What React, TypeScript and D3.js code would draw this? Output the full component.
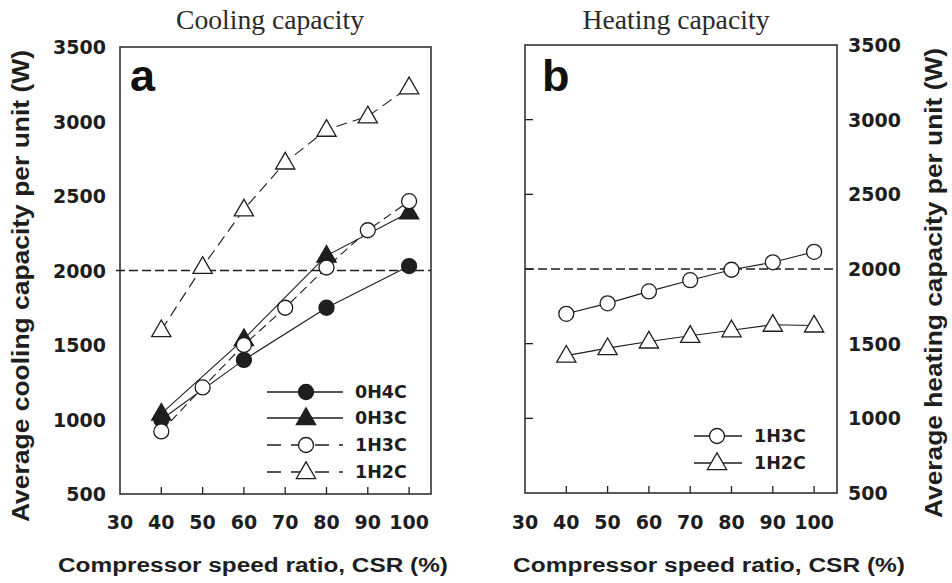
import React from "react";
import * as d3 from "d3";

const csrFull = [40, 50, 60, 70, 80, 90, 100];
const csrHalf = [40, 60, 80, 100];

const cool0H4C = [1000, 1400, 1750, 2030];
const cool0H3C = [1040, 1540, 2100, 2390];
const cool1H3C = [920, 1215, 1500, 1750, 2020, 2270, 2465];
const cool1H2C = [1600, 2025, 2410, 2725, 2945, 3035, 3230];

const heat1H3C = [1700, 1770, 1850, 1925, 1995, 2045, 2115];
const heat1H2C = [1420, 1470, 1515, 1553, 1590, 1627, 1622];

const xTicks = [30, 40, 50, 60, 70, 80, 90, 100];
const yTicks = [500, 1000, 1500, 2000, 2500, 3000, 3500];
const refLine = 2000;

const TICKFONT = "'DejaVu Sans', sans-serif";
const LABFONT = "'Liberation Sans', Arial, sans-serif";
const SERIF = "'Liberation Serif', 'Times New Roman', serif";
const INK = "#1e1e1e";

type Marker = "circleFill" | "triFill" | "circleOpen" | "triOpen";

function MarkerShape({ x, y, m }: { x: number; y: number; m: Marker }) {
  const filled = m === "circleFill" || m === "triFill";
  const fill = filled ? INK : "#fff";
  if (m === "circleFill" || m === "circleOpen") {
    return <circle cx={x} cy={y} r={7.5} fill={fill} stroke={INK} strokeWidth={1.3} />;
  }
  const sym = d3.symbol(d3.symbolTriangle, 160)();
  return <path d={sym as string} transform={`translate(${x},${y + 1})`} fill={fill} stroke={INK} strokeWidth={1.3} />;
}

function Panel({
  left, right, top, bottom, series, panel,
}: {
  left: number; right: number; top: number; bottom: number; panel: "a" | "b";
  series: { name: string; xs: number[]; ys: number[]; marker: Marker; dash?: string }[];
}) {
  const x = d3.scaleLinear().domain([30, 30 + (right - left) / 4.13]).range([left, right]);
  const y = d3.scaleLinear().domain([500, 3500]).range([bottom, top]);
  const line = d3.line<[number, number]>().x((d) => x(d[0])).y((d) => y(d[1]));
  return (
    <g>
      <line x1={panel === "a" ? left - 4 : left} x2={right} y1={y(refLine)} y2={y(refLine)} stroke={INK} strokeWidth={1.5} strokeDasharray="9,4" />
      {xTicks.filter((t) => t > 30).map((t) => (
        <line key={t} x1={x(t)} x2={x(t)} y1={bottom} y2={bottom - 7} stroke={INK} strokeWidth={1.3} />
      ))}
      {panel === "b" && yTicks.filter((t) => t > 500 && t < 3500).map((t) => (
        <line key={t} x1={left} x2={left + 8} y1={y(t)} y2={y(t)} stroke={INK} strokeWidth={1.3} />
      ))}
      {series.map((s) => (
        <path key={s.name} d={line(s.xs.map((v, i) => [v, s.ys[i]] as [number, number])) as string}
          fill="none" stroke={INK} strokeWidth={1.1} strokeDasharray={s.dash} />
      ))}
      {series.map((s) => s.xs.map((v, i) => (
        <MarkerShape key={s.name + v} x={x(v)} y={y(s.ys[i])} m={s.marker} />
      )))}
      <rect x={left} y={top} width={right - left} height={bottom - top} fill="none" stroke="#333" strokeWidth={1.6} />
      {xTicks.map((t) => (
        <text key={t} x={x(t)} y={529} textAnchor="middle" fontFamily={TICKFONT} fontWeight="bold" fontSize={19} fill={INK}>{t}</text>
      ))}
      {yTicks.map((t) => (
        <text key={t} x={panel === "a" ? left - 14 : right + 11} y={y(t) + 7}
          textAnchor={panel === "a" ? "end" : "start"} fontFamily={TICKFONT} fontWeight="bold" fontSize={19} fill={INK}>{t}</text>
      ))}
      <text x={panel === "a" ? left + 10 : left + 17} y={91} fontFamily={LABFONT} fontWeight="bold" fontSize={45} fill="#111">{panel}</text>
    </g>
  );
}

export default function App() {
  const seriesA = [
    { name: "0H4C", xs: csrHalf, ys: cool0H4C, marker: "circleFill" as Marker },
    { name: "0H3C", xs: csrHalf, ys: cool0H3C, marker: "triFill" as Marker },
    { name: "1H3C", xs: csrFull, ys: cool1H3C, marker: "circleOpen" as Marker, dash: "9,5" },
    { name: "1H2C", xs: csrFull, ys: cool1H2C, marker: "triOpen" as Marker, dash: "11,6" },
  ];
  const seriesB = [
    { name: "1H3C", xs: csrFull, ys: heat1H3C, marker: "circleOpen" as Marker },
    { name: "1H2C", xs: csrFull, ys: heat1H2C, marker: "triOpen" as Marker },
  ];
  const legA = [392, 418, 445, 472];
  const legB = [436, 463];
  return (
    <svg width={952} height={583} style={{ position: "absolute", left: 0, top: 0, background: "#fff" }}>
      <rect width={952} height={583} fill="#fff" />
      <text x={270} y={29} textAnchor="middle" fontFamily={SERIF} fontSize={27} fill="#2a2a2a" textLength={188} lengthAdjust="spacingAndGlyphs">Cooling capacity</text>
      <text x={676} y={29} textAnchor="middle" fontFamily={SERIF} fontSize={27} fill="#2a2a2a" textLength={187} lengthAdjust="spacingAndGlyphs">Heating capacity</text>

      <Panel left={120} right={431} top={47} bottom={494} series={seriesA} panel="a" />
      <Panel left={525} right={837} top={45} bottom={493} series={seriesB} panel="b" />

      {seriesA.map((s, i) => (
        <g key={s.name}>
          <line x1={267} x2={343} y1={legA[i]} y2={legA[i]} stroke={INK} strokeWidth={1.3} strokeDasharray={s.dash ? "14,10" : undefined} />
          <MarkerShape x={306} y={legA[i]} m={s.marker} />
          <text x={355} y={legA[i] + 6} fontFamily={TICKFONT} fontWeight="bold" fontSize={17.5} fill={INK}>{s.name}</text>
        </g>
      ))}
      {seriesB.map((s, i) => (
        <g key={s.name}>
          <line x1={694} x2={742} y1={legB[i]} y2={legB[i]} stroke={INK} strokeWidth={1.3} />
          <MarkerShape x={717} y={legB[i]} m={s.marker} />
          <text x={754} y={legB[i] + 6} fontFamily={TICKFONT} fontWeight="bold" fontSize={17.5} fill={INK}>{s.name}</text>
        </g>
      ))}

      <text x={253} y={572} textAnchor="middle" fontFamily={LABFONT} fontWeight="bold" fontSize={20} fill={INK} textLength={390} lengthAdjust="spacingAndGlyphs">Compressor speed ratio, CSR (%)</text>
      <text x={709} y={572} textAnchor="middle" fontFamily={LABFONT} fontWeight="bold" fontSize={20} fill={INK} textLength={392} lengthAdjust="spacingAndGlyphs">Compressor speed ratio, CSR (%)</text>
      <text transform="translate(29,286) rotate(-90)" textAnchor="middle" fontFamily={LABFONT} fontWeight="bold" fontSize={23} fill={INK} textLength={472} lengthAdjust="spacingAndGlyphs">Average cooling capacity per unit (W)</text>
      <text transform="translate(942,283) rotate(-90)" textAnchor="middle" fontFamily={LABFONT} fontWeight="bold" fontSize={23} fill={INK} textLength={470} lengthAdjust="spacingAndGlyphs">Average heating capacity per unit (W)</text>
    </svg>
  );
}
